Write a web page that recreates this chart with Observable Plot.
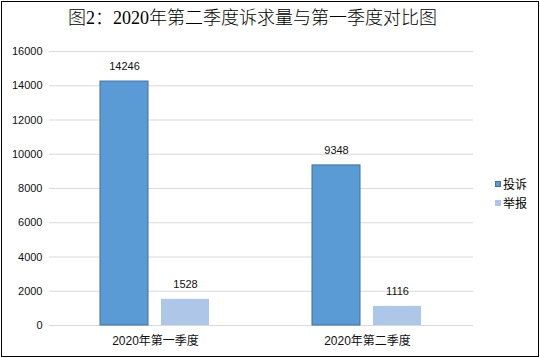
<!DOCTYPE html>
<html>
<head>
<meta charset="utf-8">
<script src="https://cdn.jsdelivr.net/npm/d3@7"></script>
<script src="https://cdn.jsdelivr.net/npm/@observablehq/plot@0.6"></script>
<style>
  html, body { margin: 0; padding: 0; background: #fff; }
  #wrap { position: relative; width: 540px; height: 358px; overflow: hidden; background: #fff; }
  #frame { position: absolute; left: 1px; top: 1px; width: 536px; height: 354px; border: 1.5px solid #000; pointer-events: none; }
  #title { position: absolute; left: 0; top: 8px; width: 505px; text-align: center; font: 300 18px/20px "Liberation Serif", "Noto Sans CJK SC", serif; color: #000; }
  #chart { position: absolute; left: 0; top: 40px; }
  #legend { position: absolute; left: 495px; top: 174px; font: 12px/19px "Noto Sans CJK SC", sans-serif; color: #000; }
  .li { display: flex; align-items: center; height: 19px; }
  .sw { width: 6px; height: 6px; margin-right: 2px; box-sizing: border-box; }
</style>
</head>
<body>
<div id="wrap">
  <div id="title"></div>
  <div id="chart"></div>
  <div id="legend"></div>
  <div id="frame"></div>
</div>
<script>
const titleText = "图2：2020年第二季度诉求量与第一季度对比图";
const categories = ["2020年第一季度", "2020年第二季度"];
const series = ["投诉", "举报"];
const complaints = [14246, 9348];
const reports = [1528, 1116];
const yTicks = [0, 2000, 4000, 6000, 8000, 10000, 12000, 14000, 16000];
const colors = ["#5B9BD5", "#AEC6E7"];
const strokes = ["#41719C", "none"];

const rows = [];
categories.forEach((c, i) => {
  rows.push({quarter: c, type: series[0], value: complaints[i]});
  rows.push({quarter: c, type: series[1], value: reports[i]});
});

document.getElementById("title").textContent = titleText;

const chart = Plot.plot({
  width: 540,
  height: 318,
  marginLeft: 49,
  marginRight: 67,
  marginTop: 11,
  marginBottom: 33,
  style: {fontFamily: "'Liberation Sans', 'Noto Sans CJK SC', sans-serif", color: "#111", background: "transparent"},
  fx: {domain: categories, padding: 0, label: null},
  x: {domain: series, paddingInner: 0.213, paddingOuter: 0.844, axis: null},
  y: {domain: [0, 16000], label: null},
  color: {domain: series, range: colors},
  marks: [
    Plot.ruleY(yTicks, {y: d => d, stroke: "#D9D9D9", strokeWidth: 1}),
    Plot.barY(rows, {
      fx: "quarter", x: "type", y: "value", fill: "type",
      stroke: d => strokes[series.indexOf(d.type)]
    }),
    Plot.text(rows, {fx: "quarter", x: "type", y: "value", text: d => String(d.value), dy: -15, fontSize: 11, fill: "#111"}),
    Plot.axisY({ticks: yTicks, tickSize: 0, tickPadding: 7, fontSize: 11, label: null, tickFormat: d => String(d)}),
    Plot.axisFx({anchor: "bottom", tickSize: 0, tickPadding: 11, fontSize: 12, label: null})
  ]
});
document.getElementById("chart").appendChild(chart);

const legend = document.getElementById("legend");
series.forEach((s, i) => {
  const li = document.createElement("div");
  li.className = "li";
  const sw = document.createElement("span");
  sw.className = "sw";
  sw.style.background = colors[i];
  if (strokes[i] !== "none") sw.style.border = "1px solid " + strokes[i];
  const t = document.createElement("span");
  t.textContent = s;
  li.appendChild(sw);
  li.appendChild(t);
  legend.appendChild(li);
});
</script>
</body>
</html>
